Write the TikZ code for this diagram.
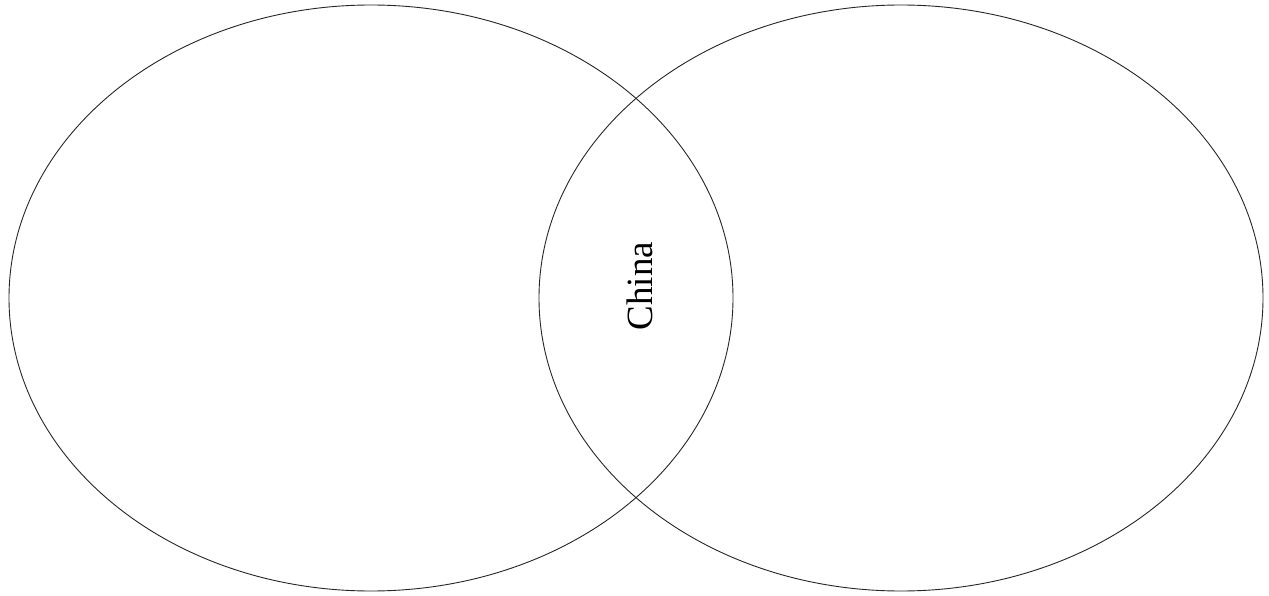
\documentclass[tikz,border=0pt]{standalone}
\usepackage{fontspec}
\setmainfont{Liberation Serif}
\begin{document}
\begin{tikzpicture}[x=1pt,y=-1pt,
  setshape/.style={draw=black!85, line width=0.9pt},
  label/.style={font=\fontsize{37}{40}\selectfont, rotate=90, inner sep=0pt}]
\useasboundingbox (0,0) rectangle (1269,596);
\draw[setshape] (371,298) ellipse [x radius=362, y radius=293];
\draw[setshape] (901,298) ellipse [x radius=362, y radius=293];
\node[label] (china) at (640,286) {China};
\end{tikzpicture}
\end{document}
